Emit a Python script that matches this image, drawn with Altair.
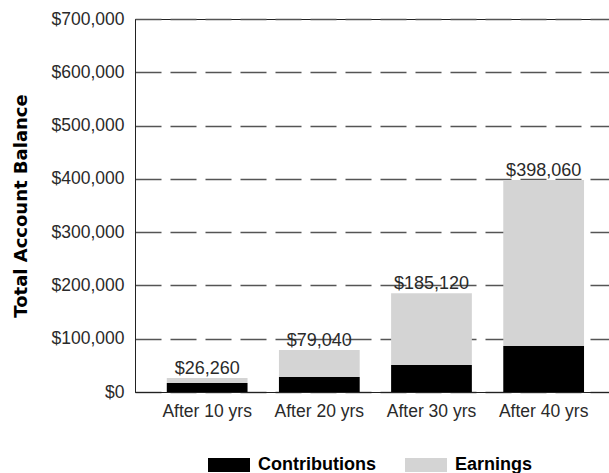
import altair as alt
import pandas as pd

periods = ["After 10 yrs", "After 20 yrs", "After 30 yrs", "After 40 yrs"]
totals = [26260, 79040, 185120, 398060]
contributions = [17000, 28000, 50500, 86300]
series = ["Contributions", "Earnings"]
colors = ["#000000", "#d4d4d4"]

rows = []
for p, t, c in zip(periods, totals, contributions):
    rows.append({"period": p, "series": series[0], "value": c, "ord": 0})
    rows.append({"period": p, "series": series[1], "value": t - c, "ord": 1})
df = pd.DataFrame(rows)
tot = pd.DataFrame({"period": periods, "total": totals})

LABEL_FONT = "Liberation Sans"

x = alt.X("period:N", sort=periods, title=None,
          scale=alt.Scale(paddingInner=0.28, paddingOuter=0.253, align=0.56),
          axis=alt.Axis(labelAngle=0, labelFont=LABEL_FONT, labelFontSize=17.5,
                        labelColor="#2a2a2a", ticks=False, labelPadding=10,
                        domainColor="#222"))

bars = alt.Chart(df).mark_bar().encode(
    x=x,
    y=alt.Y("value:Q", stack="zero",
            scale=alt.Scale(domain=[0, 700000]),
            title="Total Account Balance",
            axis=alt.Axis(format="$,.0f", values=[0, 100000, 200000, 300000, 400000, 500000, 600000, 700000],
                          labelFont=LABEL_FONT, labelFontSize=17.5, labelColor="#2a2a2a",
                          ticks=False, labelPadding=11, domainColor="#222",
                          grid=True, gridDash=[26, 9], gridColor="#555", gridWidth=1.5,
                          titleFont="DejaVu Sans", titleFontSize=18, titleFontWeight="bold",
                          titleColor="#000", titleX=-114, titleBaseline="middle")),
    color=alt.Color("series:N", scale=alt.Scale(domain=series, range=colors),
                    legend=alt.Legend(title=None, orient="none", direction="horizontal",
                                      legendX=85, legendY=437, padding=0,
                                      symbolType="M-3,-1H3V1H-3Z", symbolSize=196,
                                      symbolStrokeWidth=0, labelOffset=20,
                                      columnPadding=29,
                                      labelFont=LABEL_FONT, labelFontSize=18,
                                      labelFontWeight="bold", labelColor="#000")),
    order=alt.Order("ord:Q", sort="ascending"),
)

labels = alt.Chart(tot).mark_text(
    font=LABEL_FONT, fontSize=18, color="#2a2a2a", baseline="alphabetic", dy=-4
).encode(
    x=alt.X("period:N", sort=periods),
    y=alt.Y("total:Q"),
    text=alt.Text("total:Q", format="$,.0f"),
)

chart = alt.layer(bars, labels).properties(
    width=474, height=373,
    autosize=alt.AutoSizeParams(type="none"),
    padding={"left": 135, "top": 19, "right": 0, "bottom": 81},
).configure_view(stroke="#222", strokeWidth=1)

chart.save("out.html", embed_options={"renderer": "svg", "actions": False})
